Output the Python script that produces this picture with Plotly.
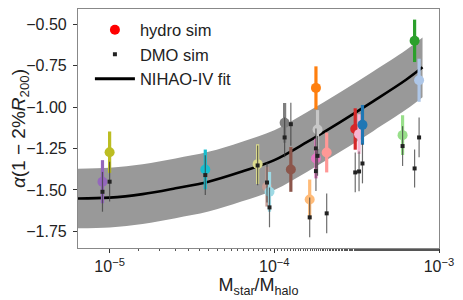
import plotly.graph_objects as go

# ---- data ----
hydro_x = [9.05e-6, 1.0e-5, 3.81e-5, 7.92e-5, 9.03e-5, 9.35e-5, 1.155e-4, 1.26e-4,
           1.64e-4, 1.79e-4, 1.79e-4, 1.83e-4, 2.08e-4, 3.10e-4, 3.27e-4, 3.43e-4,
           6.01e-4, 7.11e-4, 7.57e-4]
hydro_y = [-1.450, -1.272, -1.376, -1.344, -1.480, -1.511, -1.095, -1.376,
           -1.557, -0.884, -1.310, -1.135, -1.274, -1.132, -1.163, -1.107,
           -1.169, -0.600, -0.838]
hydro_err = [0.13, 0.125, 0.12, 0.12, 0.12, 0.12, 0.12, 0.135,
             0.12, 0.13, 0.12, 0.117, 0.12, 0.125, 0.12, 0.12,
             0.12, 0.128, 0.13]
hydro_colors = ["#9467bd", "#bcbd22", "#17becf", "#dbdb8d", "#c49c94", "#9edae5",
                "#7f7f7f", "#8c564b", "#ffbb78", "#ff7f0e", "#e377c2", "#c7c7c7",
                "#ff9896", "#d62728", "#f7b6d2", "#1f77b4", "#98df8a", "#2ca02c",
                "#aec7e8"]

dmo_x = hydro_x
dmo_y = [-1.511, -1.450, -1.410, -1.352, -1.455, -1.605, -1.183, -1.103,
         -1.665, -1.249, -1.386, -1.294, -1.641, -1.394, -1.388, -1.340,
         -1.235, -1.370, -1.183]
dmo_err = [0.12, 0.12, 0.12, 0.12, 0.12, 0.12, 0.12, 0.13,
           0.12, 0.12, 0.12, 0.12, 0.12, 0.12, 0.12, 0.12,
           0.12, 0.115, 0.12]

fit_x = [5.0e-6, 1.0e-5, 1.585e-5, 2.512e-5, 3.981e-5, 6.31e-5, 1.0e-4,
         1.585e-4, 2.512e-4, 3.981e-4, 6.31e-4, 7.943e-4]
fit_y = [-1.552, -1.546, -1.525, -1.490, -1.450, -1.390, -1.320,
         -1.210, -1.090, -0.965, -0.835, -0.760]
band_half = 0.18

y_ticks = [-1.75, -1.50, -1.25, -1.00, -0.75, -0.50]
x_ticks = [1e-5, 1e-4, 1e-3]
x_tick_text = ["10<sup>−5</sup>", "10<sup>−4</sup>", "10<sup>−3</sup>"]

FONT = "Liberation Sans, Arial, sans-serif"

fig = go.Figure()

# scatter band
fig.add_trace(go.Scatter(x=fit_x, y=[v + band_half for v in fit_y], mode="lines",
                         line=dict(width=0, shape="spline"), showlegend=False,
                         hoverinfo="skip"))
fig.add_trace(go.Scatter(x=fit_x, y=[v - band_half for v in fit_y], mode="lines",
                         line=dict(width=0, shape="spline"), fill="tonexty",
                         fillcolor="rgb(153,153,153)", showlegend=False,
                         hoverinfo="skip"))
# fit line
fig.add_trace(go.Scatter(x=fit_x, y=fit_y, mode="lines",
                         line=dict(color="black", width=2.6, shape="spline"),
                         showlegend=False))

# hydro points
for xv, yv, ev, c in zip(hydro_x, hydro_y, hydro_err, hydro_colors):
    fig.add_trace(go.Scatter(x=[xv], y=[yv], mode="markers",
                             marker=dict(color=c, size=10, line=dict(width=0)),
                             error_y=dict(type="data", array=[ev], color=c,
                                          thickness=3.2, width=0),
                             showlegend=False))

# DMO points
for xv, yv, ev in zip(dmo_x, dmo_y, dmo_err):
    fig.add_trace(go.Scatter(x=[xv], y=[yv], mode="markers",
                             marker=dict(color="#222222", size=4, symbol="square"),
                             error_y=dict(type="data", array=[ev],
                                          color="rgba(60,60,60,0.75)",
                                          thickness=1.2, width=0),
                             showlegend=False))

# legend entries
fig.add_trace(go.Scatter(x=[None], y=[None], mode="markers", name="hydro sim",
                         marker=dict(color="red", size=10)))
fig.add_trace(go.Scatter(x=[None], y=[None], mode="markers", name="DMO sim",
                         marker=dict(color="#222222", size=4, symbol="square")))
fig.add_trace(go.Scatter(x=[None], y=[None], mode="lines", name="NIHAO-IV fit",
                         line=dict(color="black", width=3)))

# the page places the figure 8px in from the top-left corner of the window
fig.update_layout(
    width=455, height=292,
    margin=dict(l=70, r=24, t=1, b=52, autoexpand=False),
    plot_bgcolor="white", paper_bgcolor="white",
    font=dict(family=FONT, size=16, color="#222222"),
    legend=dict(x=0.033, y=0.985, xanchor="left", yanchor="top",
                traceorder="normal",
                bgcolor="rgba(0,0,0,0)", borderwidth=0, itemwidth=40,
                font=dict(size=16.5), tracegroupgap=0),
    showlegend=True,
)
fig.update_xaxes(type="log", range=[-5.192, -3.0],
                 tickvals=x_ticks, ticktext=x_tick_text,
                 showgrid=False, zeroline=False,
                 ticks="outside", ticklen=4, tickcolor="#333",
                 showline=True, linecolor="#888", linewidth=1.2, mirror=True,
                 minor=dict(ticks="outside", ticklen=2, tickcolor="#555",
                            showgrid=False),
                 title=dict(text="M<sub>star</sub>/M<sub>halo</sub>",
                            font=dict(size=18), standoff=3))
fig.update_yaxes(range=[-1.85, -0.408], tickvals=y_ticks, tickformat=".2f",
                 showgrid=False, zeroline=False, ticklabelstandoff=3,
                 ticks="outside", ticklen=4, tickcolor="#333",
                 showline=True, linecolor="#888", linewidth=1.2, mirror=True,
                 title=dict(text="<i>α</i>(1 − 2%<i>R</i><sub>200</sub>)",
                            font=dict(size=19), standoff=3))

fig.write_html("out.html")
